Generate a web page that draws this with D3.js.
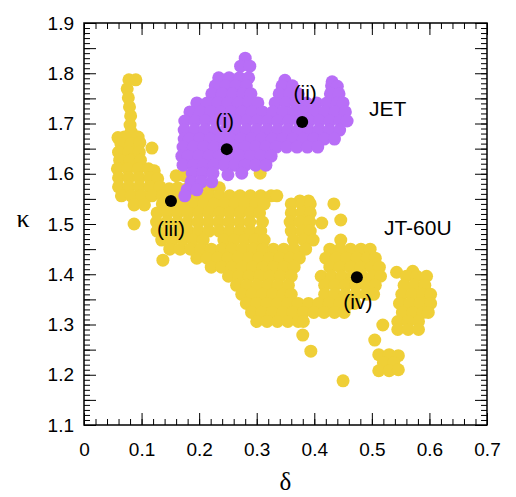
<!DOCTYPE html>
<html>
<head>
<meta charset="utf-8">
<script src="https://cdn.jsdelivr.net/npm/d3@7"></script>
<style>
  body { margin: 0; background: #fff; }
  svg text { font-family: "Liberation Sans", Arial, sans-serif; }
</style>
</head>
<body>
<div id="chart"></div>
<script>
//-----------------------------DATA-----------------------------//
// [delta, kappa] pairs
const jt60uPoints = [
  // left arm
  [0.078,1.787],[0.090,1.787],[0.075,1.769],[0.077,1.751],[0.079,1.733],[0.081,1.715],
  [0.080,1.697],[0.082,1.683],[0.059,1.672],[0.070,1.673],[0.094,1.673],
  [0.064,1.660],[0.082,1.660],[0.097,1.662],[0.118,1.651],
  [0.060,1.643],[0.078,1.643],[0.096,1.643],[0.062,1.627],[0.080,1.627],[0.098,1.627],
  [0.058,1.610],[0.076,1.610],[0.094,1.610],[0.112,1.610],[0.122,1.606],
  [0.060,1.592],[0.078,1.592],[0.096,1.592],[0.114,1.592],[0.128,1.590],
  [0.060,1.574],[0.078,1.574],[0.096,1.574],[0.114,1.574],[0.132,1.574],[0.148,1.570],
  [0.065,1.556],[0.082,1.556],[0.100,1.556],[0.118,1.556],[0.136,1.556],
  [0.087,1.538],[0.105,1.538],[0.087,1.500],[0.137,1.428],
  [0.160,1.596],[0.175,1.596],[0.306,1.601],
  // main band
  [0.163,1.572],[0.181,1.572],[0.199,1.572],[0.217,1.572],[0.235,1.572],
  [0.163,1.556],[0.181,1.556],[0.199,1.556],[0.217,1.556],[0.235,1.556],[0.253,1.556],
  [0.271,1.556],[0.289,1.556],[0.307,1.556],[0.325,1.556],[0.335,1.556],
  [0.375,1.546],[0.390,1.546],
  [0.136,1.540],[0.154,1.540],[0.172,1.540],[0.190,1.540],[0.208,1.540],[0.226,1.540],
  [0.244,1.540],[0.262,1.540],[0.280,1.540],[0.298,1.540],[0.313,1.540],
  [0.360,1.540],[0.378,1.540],[0.393,1.540],[0.434,1.540],
  [0.127,1.522],[0.145,1.522],[0.163,1.522],[0.181,1.522],[0.199,1.522],[0.217,1.522],
  [0.235,1.522],[0.253,1.522],[0.271,1.522],[0.289,1.522],[0.305,1.522],
  [0.360,1.522],[0.378,1.522],[0.393,1.522],
  [0.126,1.504],[0.144,1.504],[0.162,1.504],[0.180,1.504],[0.198,1.504],[0.216,1.504],
  [0.234,1.504],[0.252,1.504],[0.270,1.504],[0.288,1.504],[0.310,1.504],
  [0.358,1.504],[0.375,1.504],[0.392,1.504],[0.413,1.502],[0.446,1.508],
  [0.127,1.486],[0.145,1.486],[0.163,1.486],[0.181,1.486],[0.199,1.486],[0.217,1.486],
  [0.235,1.486],[0.253,1.486],[0.271,1.486],[0.289,1.486],[0.307,1.486],
  [0.360,1.486],[0.378,1.486],[0.393,1.486],
  [0.135,1.468],[0.153,1.468],[0.171,1.468],[0.189,1.468],[0.207,1.468],[0.243,1.468],
  [0.261,1.468],[0.279,1.468],[0.297,1.468],[0.313,1.468],
  [0.364,1.468],[0.382,1.468],[0.398,1.468],[0.446,1.468],
  [0.149,1.450],[0.167,1.450],[0.185,1.450],[0.203,1.450],[0.221,1.450],[0.239,1.450],
  [0.257,1.450],[0.275,1.450],[0.293,1.450],[0.311,1.450],[0.329,1.450],[0.347,1.450],
  [0.365,1.450],[0.385,1.450],[0.427,1.450],[0.445,1.450],[0.463,1.450],[0.481,1.450],[0.497,1.450],
  [0.196,1.432],[0.214,1.432],[0.232,1.432],[0.250,1.432],[0.268,1.432],[0.286,1.432],
  [0.304,1.432],[0.322,1.432],[0.340,1.432],[0.358,1.432],[0.374,1.432],
  [0.420,1.432],[0.438,1.432],[0.456,1.432],[0.474,1.432],[0.492,1.432],[0.506,1.432],
  [0.221,1.414],[0.239,1.414],[0.257,1.414],[0.275,1.414],[0.293,1.414],[0.311,1.414],
  [0.329,1.414],[0.347,1.414],[0.365,1.414],
  [0.427,1.414],[0.445,1.414],[0.463,1.414],[0.481,1.414],[0.499,1.414],[0.513,1.414],
  [0.543,1.404],[0.571,1.406],
  [0.251,1.396],[0.269,1.396],[0.287,1.396],[0.305,1.396],[0.323,1.396],[0.341,1.396],[0.360,1.396],
  [0.412,1.396],[0.430,1.396],[0.448,1.396],[0.466,1.396],[0.484,1.396],[0.502,1.396],[0.515,1.396],
  [0.560,1.396],[0.578,1.396],[0.595,1.396],
  [0.265,1.378],[0.283,1.378],[0.301,1.378],[0.319,1.378],[0.337,1.378],[0.355,1.378],
  [0.418,1.378],[0.436,1.378],[0.454,1.378],[0.472,1.378],[0.490,1.378],[0.506,1.378],
  [0.556,1.378],[0.574,1.378],[0.592,1.378],
  [0.274,1.360],[0.292,1.360],[0.310,1.360],[0.328,1.360],[0.346,1.360],[0.360,1.360],
  [0.418,1.360],[0.436,1.360],[0.454,1.360],[0.472,1.360],[0.490,1.360],[0.503,1.360],
  [0.552,1.360],[0.570,1.360],[0.588,1.360],[0.602,1.360],
  [0.282,1.342],[0.300,1.342],[0.318,1.342],[0.336,1.342],[0.354,1.342],[0.372,1.342],
  [0.390,1.342],[0.408,1.342],[0.426,1.342],[0.444,1.342],[0.462,1.342],[0.470,1.342],
  [0.548,1.342],[0.566,1.342],[0.584,1.342],[0.602,1.342],
  [0.291,1.324],[0.309,1.324],[0.327,1.324],[0.345,1.324],[0.363,1.324],[0.381,1.324],
  [0.399,1.324],[0.417,1.324],[0.435,1.324],[0.452,1.324],
  [0.553,1.324],[0.571,1.324],[0.589,1.324],[0.598,1.324],
  [0.300,1.306],[0.318,1.306],[0.336,1.306],[0.354,1.306],[0.372,1.306],[0.381,1.306],
  [0.545,1.306],[0.563,1.306],[0.581,1.306],[0.519,1.299],
  [0.545,1.290],[0.563,1.290],[0.581,1.290],
  [0.380,1.279],[0.505,1.269],[0.394,1.247],[0.450,1.188],
  [0.512,1.240],[0.530,1.240],[0.546,1.238],[0.520,1.224],[0.538,1.224],
  [0.512,1.208],[0.530,1.208],[0.546,1.210]
];

const jetPoints = [
  [0.280,1.830],[0.272,1.814],[0.288,1.814],
  [0.234,1.791],[0.252,1.791],[0.270,1.791],[0.286,1.791],[0.349,1.786],[0.431,1.783],
  [0.228,1.775],[0.246,1.775],[0.264,1.775],[0.282,1.775],[0.344,1.775],[0.362,1.775],
  [0.430,1.775],[0.440,1.774],
  [0.222,1.759],[0.240,1.759],[0.258,1.759],[0.276,1.759],[0.290,1.759],
  [0.339,1.759],[0.357,1.759],[0.372,1.759],[0.428,1.759],[0.443,1.759],
  [0.196,1.741],[0.214,1.741],[0.232,1.741],[0.250,1.741],[0.268,1.741],[0.286,1.741],
  [0.302,1.741],[0.332,1.741],[0.350,1.741],[0.368,1.741],[0.386,1.741],[0.404,1.741],
  [0.422,1.741],[0.440,1.741],[0.450,1.741],
  [0.184,1.723],[0.202,1.723],[0.220,1.723],[0.238,1.723],[0.256,1.723],[0.274,1.723],
  [0.292,1.723],[0.310,1.723],[0.328,1.723],[0.346,1.723],[0.364,1.723],[0.382,1.723],
  [0.400,1.723],[0.418,1.723],[0.436,1.723],[0.454,1.723],
  [0.175,1.705],[0.193,1.705],[0.211,1.705],[0.229,1.705],[0.247,1.705],[0.265,1.705],
  [0.283,1.705],[0.301,1.705],[0.319,1.705],[0.337,1.705],[0.355,1.705],[0.373,1.705],
  [0.391,1.705],[0.409,1.705],[0.427,1.705],[0.445,1.705],[0.457,1.705],
  [0.174,1.687],[0.192,1.687],[0.210,1.687],[0.228,1.687],[0.246,1.687],[0.264,1.687],
  [0.282,1.687],[0.300,1.687],[0.318,1.687],[0.336,1.687],[0.354,1.687],[0.372,1.687],
  [0.390,1.687],[0.408,1.687],[0.426,1.687],[0.444,1.687],
  [0.174,1.669],[0.183,1.669],[0.201,1.669],[0.219,1.669],[0.237,1.669],[0.255,1.669],
  [0.273,1.669],[0.291,1.669],[0.309,1.669],[0.327,1.669],[0.345,1.669],[0.363,1.669],
  [0.381,1.669],[0.399,1.669],[0.417,1.669],[0.435,1.669],
  [0.172,1.653],[0.190,1.653],[0.208,1.653],[0.226,1.653],[0.244,1.653],[0.262,1.653],
  [0.280,1.653],[0.298,1.653],[0.316,1.653],[0.334,1.653],[0.352,1.653],[0.370,1.653],
  [0.388,1.653],[0.406,1.653],
  [0.170,1.635],[0.181,1.635],[0.199,1.635],[0.217,1.635],[0.235,1.635],[0.253,1.635],
  [0.271,1.635],[0.289,1.635],[0.307,1.635],[0.325,1.635],
  [0.172,1.617],[0.190,1.617],[0.208,1.617],[0.226,1.617],[0.244,1.617],[0.262,1.617],
  [0.280,1.617],[0.298,1.617],[0.316,1.617],
  [0.188,1.601],[0.206,1.601],[0.224,1.601],[0.250,1.598],[0.274,1.601],
  [0.186,1.584],[0.204,1.584],[0.222,1.584],
  [0.179,1.568],[0.196,1.568],[0.175,1.556]
];

// reference cases (i)-(iv)
const caseNames = ["(i)", "(ii)", "(iii)", "(iv)"];
const caseDelta = [0.248, 0.379, 0.151, 0.474];
const caseKappa = [1.649, 1.703, 1.546, 1.394];

const seriesNames = ["JET", "JT-60U"];
const xTicks = [0, 0.1, 0.2, 0.3, 0.4, 0.5, 0.6, 0.7];
const yTicks = [1.1, 1.2, 1.3, 1.4, 1.5, 1.6, 1.7, 1.8, 1.9];

//-----------------------------SVG------------------------------//
const width = 516;
const height = 497;
const plotLeft = 84, plotRight = 487, plotTop = 23, plotBottom = 425;
const yellow = "#EFCF37";
const purple = "#B86EF7";

const svg = d3.select("#chart").append("svg")
  .attr("width", width)
  .attr("height", height);

const x = d3.scaleLinear().domain([0, 0.7]).range([plotLeft, plotRight]);
const y = d3.scaleLinear().domain([1.1, 1.9]).range([plotBottom, plotTop]);

//----------------------------POINTS----------------------------//
svg.append("g").selectAll("circle")
  .data(jt60uPoints)
  .join("circle")
  .attr("cx", d => x(d[0]))
  .attr("cy", d => y(d[1]))
  .attr("r", 6.5)
  .attr("fill", yellow);

svg.append("g").selectAll("circle")
  .data(jetPoints)
  .join("circle")
  .attr("cx", d => x(d[0]))
  .attr("cy", d => y(d[1]))
  .attr("r", 6.5)
  .attr("fill", purple);

// black markers and their labels
const labelShift = [[-2, -21], [3, -22], [0, 35], [1, 32]];
const cases = caseNames.map((n, i) => ({name: n, d: caseDelta[i], k: caseKappa[i], s: labelShift[i]}));

svg.append("g").selectAll("circle")
  .data(cases)
  .join("circle")
  .attr("cx", d => x(d.d))
  .attr("cy", d => y(d.k))
  .attr("r", 6)
  .attr("fill", "#000");

svg.append("g").selectAll("text")
  .data(cases)
  .join("text")
  .attr("x", d => x(d.d) + d.s[0])
  .attr("y", d => y(d.k) + d.s[1])
  .attr("text-anchor", "middle")
  .attr("font-size", 21)
  .text(d => d.name);

// series names
svg.append("text")
  .attr("x", x(0.495)).attr("y", y(1.715))
  .attr("font-size", 21)
  .text(seriesNames[0]);

svg.append("text")
  .attr("x", x(0.521)).attr("y", y(1.478))
  .attr("font-size", 21)
  .text(seriesNames[1]);

//-----------------------------AXES-----------------------------//
const xMinor = d3.range(0, 0.7001, 0.02);
const yMinor = d3.range(1.1, 1.9001, 0.01);
const yMid = d3.range(1.15, 1.9, 0.1);

function addAxis(axis, tx, ty) {
  const g = svg.append("g")
    .attr("transform", "translate(" + tx + "," + ty + ")")
    .call(axis);
  g.select(".domain").remove();
  g.selectAll("line").attr("stroke", "#000").attr("stroke-width", 1);
  g.selectAll("text")
    .attr("fill", "#000")
    .attr("font-size", 19)
    .attr("font-family", "'Liberation Sans', Arial, sans-serif");
  return g;
}

// bottom
addAxis(d3.axisBottom(x).tickValues(xMinor).tickSize(-6).tickSizeOuter(0).tickFormat(""), 0, plotBottom);
addAxis(d3.axisBottom(x).tickValues(xTicks).tickSize(-12).tickSizeOuter(0)
  .tickPadding(18).tickFormat(d => String(d)), 0, plotBottom);
// top
addAxis(d3.axisTop(x).tickValues(xMinor).tickSize(-6).tickSizeOuter(0).tickFormat(""), 0, plotTop);
addAxis(d3.axisTop(x).tickValues(xTicks).tickSize(-12).tickSizeOuter(0).tickFormat(""), 0, plotTop);
// left
addAxis(d3.axisLeft(y).tickValues(yMinor).tickSize(-6).tickSizeOuter(0).tickFormat(""), plotLeft, 0);
addAxis(d3.axisLeft(y).tickValues(yMid).tickSize(-12).tickSizeOuter(0).tickFormat(""), plotLeft, 0);
addAxis(d3.axisLeft(y).tickValues(yTicks).tickSize(-12).tickSizeOuter(0)
  .tickPadding(10).tickFormat(d => d.toFixed(1)), plotLeft, 0);
// right
addAxis(d3.axisRight(y).tickValues(yMinor).tickSize(-6).tickSizeOuter(0).tickFormat(""), plotRight, 0);
addAxis(d3.axisRight(y).tickValues(yMid).tickSize(-12).tickSizeOuter(0).tickFormat(""), plotRight, 0);
addAxis(d3.axisRight(y).tickValues(yTicks).tickSize(-12).tickSizeOuter(0).tickFormat(""), plotRight, 0);

// frame
svg.append("rect")
  .attr("x", plotLeft).attr("y", plotTop)
  .attr("width", plotRight - plotLeft)
  .attr("height", plotBottom - plotTop)
  .attr("fill", "none")
  .attr("stroke", "#000")
  .attr("stroke-width", 1.5);

// axis titles
svg.append("text")
  .attr("x", (plotLeft + plotRight) / 2).attr("y", 490)
  .attr("text-anchor", "middle")
  .attr("font-size", 25)
  .style("font-family", "'Liberation Serif', 'Times New Roman', serif")
  .text("δ");

svg.append("text")
  .attr("x", 23).attr("y", 227)
  .attr("text-anchor", "middle")
  .attr("font-size", 26)
  .style("font-family", "'Liberation Serif', 'Times New Roman', serif")
  .text("κ");
</script>
</body>
</html>
